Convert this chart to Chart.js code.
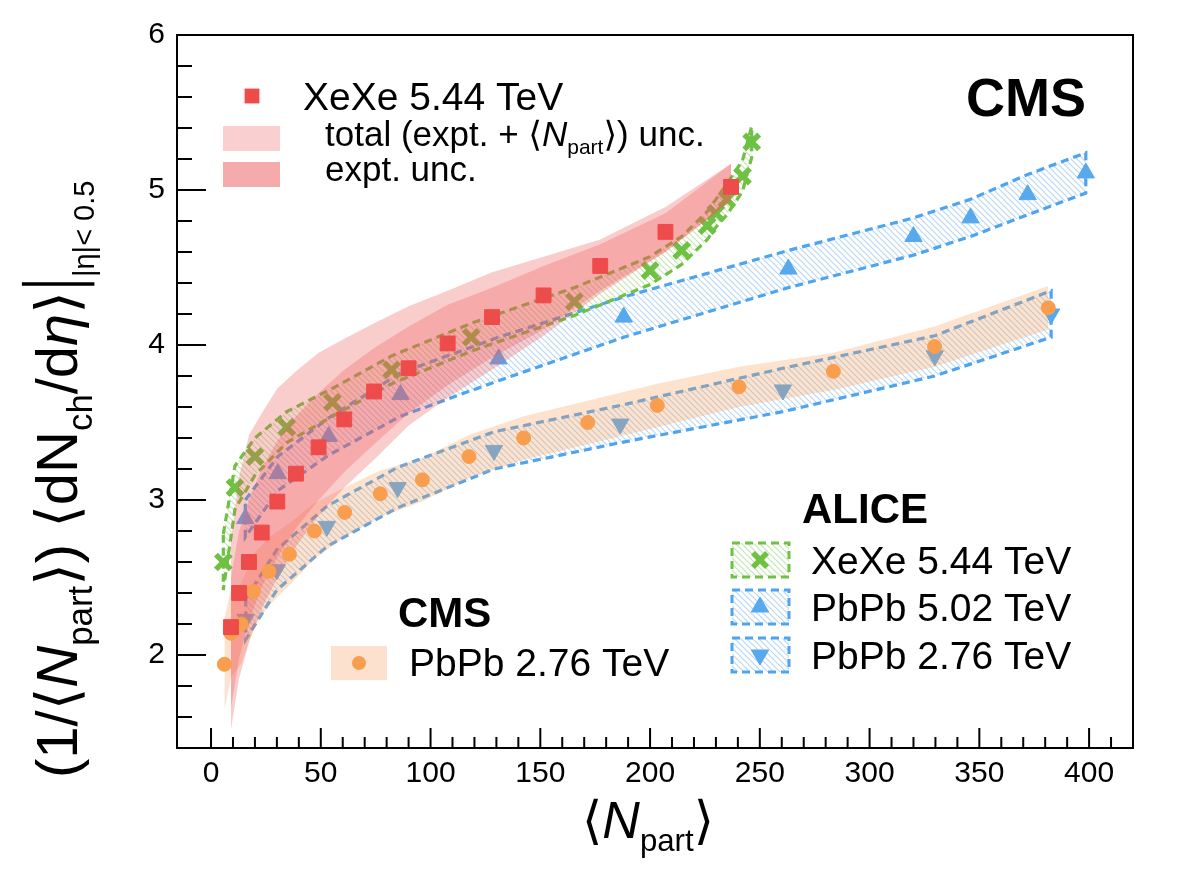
<!DOCTYPE html>
<html>
<head>
<meta charset="utf-8">
<script src="https://cdn.jsdelivr.net/npm/chart.js@4.4.1/dist/chart.umd.min.js"></script>
<style>
  html, body { margin: 0; padding: 0; background: #fff; }
  #wrap { width: 1182px; height: 871px; }
</style>
</head>
<body>
<div id="wrap"><canvas id="chart" width="1182" height="871"></canvas></div>
<script>
// ---- data ----
const xTicks = [0, 50, 100, 150, 200, 250, 300, 350, 400];
const yTicks = [2, 3, 4, 5, 6];

// CMS XeXe 5.44 TeV
const cmsXeXeNpart  = [9.1, 12.8, 17.3, 23.1, 30.2, 38.7, 49.0, 60.7, 74.3, 90.0, 107.8, 128.0, 151.5, 177.3, 207.0, 236.9];
const cmsXeXeVal    = [2.18, 2.40, 2.60, 2.79, 2.99, 3.17, 3.34, 3.52, 3.70, 3.85, 4.01, 4.18, 4.32, 4.51, 4.73, 5.02];
const cmsXeXeExptLo = [1.66, 1.98, 2.22, 2.44, 2.63, 2.82, 3.00, 3.18, 3.36, 3.56, 3.74, 3.92, 4.10, 4.35, 4.60, 4.93];
const cmsXeXeExptHi = [2.50, 2.80, 3.00, 3.20, 3.38, 3.54, 3.69, 3.84, 3.98, 4.12, 4.26, 4.37, 4.51, 4.65, 4.85, 5.17];
const cmsXeXeTotLo  = [1.52, 1.85, 2.08, 2.30, 2.50, 2.70, 2.90, 3.08, 3.26, 3.48, 3.66, 3.84, 4.06, 4.33, 4.60, 4.93];
const cmsXeXeTotHi  = [2.75, 3.15, 3.42, 3.56, 3.72, 3.83, 3.95, 4.04, 4.14, 4.25, 4.35, 4.47, 4.57, 4.68, 4.89, 5.17];

// CMS PbPb 2.76 TeV
const cmsPbPbNpart = [6.1, 9.1, 13.7, 19.3, 26.4, 35.7, 47.1, 60.9, 77.1, 96.3, 117.5, 142.4, 171.6, 203.3, 240.5, 283.5, 329.6, 381.4];
const cmsPbPbVal   = [1.94, 2.14, 2.20, 2.41, 2.54, 2.65, 2.80, 2.92, 3.04, 3.13, 3.28, 3.40, 3.50, 3.61, 3.73, 3.83, 3.99, 4.24];
const cmsPbPbErr   = [0.30, 0.28, 0.26, 0.24, 0.22, 0.20, 0.18, 0.16, 0.15, 0.14, 0.14, 0.14, 0.14, 0.14, 0.13, 0.12, 0.13, 0.14];

// ALICE XeXe 5.44 TeV
const aliceXeXeNpart = [5.6, 10.9, 20.0, 34.5, 55.3, 82.3, 118.5, 165.5, 200.0, 214.4, 226.0, 230.0, 235.0, 242.1, 246.3];
const aliceXeXeVal   = [2.60, 3.08, 3.28, 3.47, 3.63, 3.84, 4.05, 4.28, 4.48, 4.61, 4.77, 4.85, 4.94, 5.09, 5.31];
const aliceXeXeErr   = [0.18, 0.14, 0.12, 0.10, 0.09, 0.09, 0.09, 0.09, 0.09, 0.09, 0.09, 0.09, 0.10, 0.10, 0.10];

// ALICE PbPb 5.02 TeV
const alice502Npart = [15.6, 30.4, 53.6, 86.3, 131.0, 188.0, 263.0, 320.0, 346.0, 372.0, 398.5];
const alice502Val   = [2.88, 3.17, 3.41, 3.68, 3.91, 4.18, 4.49, 4.70, 4.82, 4.97, 5.11];
const alice502Err   = [0.12, 0.11, 0.12, 0.14, 0.14, 0.13, 0.12, 0.12, 0.12, 0.13, 0.13];

// ALICE PbPb 2.76 TeV
const alice276Npart = [15.8, 30.0, 52.8, 85.0, 128.9, 186.4, 260.5, 329.7, 382.7];
const alice276Val   = [2.23, 2.55, 2.83, 3.08, 3.32, 3.49, 3.71, 3.93, 4.20];
const alice276Err   = [0.13, 0.13, 0.13, 0.13, 0.12, 0.12, 0.14, 0.13, 0.15];

// ---- styling ----
const FONT = "'Liberation Sans', Arial, Helvetica, 'DejaVu Sans', sans-serif";
const red = '#ee4b4b';
const orange = '#f99d4f';
const green = '#6ec143';
const blue = '#58a8ec';
const blueLine = '#4ea4ee';
const pinkBand = 'rgba(238, 90, 90, 0.30)';
const orangeBand = 'rgba(250, 160, 90, 0.30)';

function hatch(color) {
    const c = document.createElement('canvas');
    c.width = 6; c.height = 6;
    const g = c.getContext('2d');
    g.strokeStyle = color;
    g.lineWidth = 1.1;
    g.beginPath();
    g.moveTo(-1, -1); g.lineTo(7, 7);
    g.moveTo(-4, 2); g.lineTo(4, 10);
    g.moveTo(2, -4); g.lineTo(10, 4);
    g.stroke();
    return g.createPattern(c, 'repeat');
}
const blueHatch = hatch('rgba(110, 175, 240, 0.5)');
const greenHatch = hatch('rgba(130, 205, 100, 0.5)');

const pts = (xs, ys) => xs.map((x, i) => ({x: x, y: ys[i]}));
const shift = (ys, es, s) => ys.map((y, i) => y + s * es[i]);
const outline = (xs, lo, hi) => {
    const top = pts(xs, hi);
    const bottom = pts(xs, lo).reverse();
    return top.concat(bottom, [top[0]]);
};

// band edges: upper edge fills down to the next dataset (the lower edge)
const bandPair = (xs, lo, hi, fillColor) => [
    {data: pts(xs, hi), fill: '+1', backgroundColor: fillColor, borderWidth: 0, pointRadius: 0},
    {data: pts(xs, lo), fill: false, borderWidth: 0, pointRadius: 0}
];
const dashed = (xs, lo, hi, color) => ({
    data: outline(xs, lo, hi), fill: false, borderColor: color, borderWidth: 3.2,
    borderDash: [8, 5], pointRadius: 0
});
const markers = (xs, ys, color, style, radius, extra) => Object.assign({
    data: pts(xs, ys), showLine: false, pointStyle: style, pointRadius: radius,
    backgroundColor: color, borderColor: color, pointBorderWidth: 1
}, extra || {});

const datasets = [
    ...bandPair(alice276Npart, shift(alice276Val, alice276Err, -1), shift(alice276Val, alice276Err, 1), blueHatch),
    dashed(alice276Npart, shift(alice276Val, alice276Err, -1), shift(alice276Val, alice276Err, 1), blueLine),
    ...bandPair(alice502Npart, shift(alice502Val, alice502Err, -1), shift(alice502Val, alice502Err, 1), blueHatch),
    dashed(alice502Npart, shift(alice502Val, alice502Err, -1), shift(alice502Val, alice502Err, 1), blueLine),
    ...bandPair(aliceXeXeNpart, shift(aliceXeXeVal, aliceXeXeErr, -1), shift(aliceXeXeVal, aliceXeXeErr, 1), greenHatch),
    dashed(aliceXeXeNpart, shift(aliceXeXeVal, aliceXeXeErr, -1), shift(aliceXeXeVal, aliceXeXeErr, 1), green),
    markers(alice276Npart, alice276Val, blue, 'triangle', 10, {pointRotation: 180}),
    markers(alice502Npart, alice502Val, blue, 'triangle', 10),
    markers(aliceXeXeNpart, aliceXeXeVal, green, 'crossRot', 10.5, {pointBorderWidth: 5.5}),
    ...bandPair(cmsPbPbNpart, shift(cmsPbPbVal, cmsPbPbErr, -1), shift(cmsPbPbVal, cmsPbPbErr, 1), orangeBand),
    ...bandPair(cmsXeXeNpart, cmsXeXeTotLo, cmsXeXeTotHi, pinkBand),
    ...bandPair(cmsXeXeNpart, cmsXeXeExptLo, cmsXeXeExptHi, pinkBand),
    markers(cmsPbPbNpart, cmsPbPbVal, orange, 'circle', 7),
    markers(cmsXeXeNpart, cmsXeXeVal, red, 'rect', 10.5)
];
// first dataset at the bottom, last on top
datasets.forEach((d, i) => { d.order = datasets.length - i; });

// rich text: parts of {t, s, it, b, dy} or {bar}
function setFont(ctx, p) {
    ctx.font = (p.it ? 'italic ' : '') + (p.b ? 'bold ' : '') + p.s + 'px ' + FONT;
}
function richWidth(ctx, parts) {
    let w = 0;
    parts.forEach(p => {
        if (p.bar) { w += p.adv; return; }
        setFont(ctx, p);
        w += ctx.measureText(p.t).width;
    });
    return w;
}
function drawRich(ctx, parts, x, y) {
    let cx = x;
    parts.forEach(p => {
        if (p.bar) {
            ctx.save();
            ctx.lineWidth = p.w;
            ctx.beginPath();
            ctx.moveTo(cx + p.adv / 2, y + p.y1);
            ctx.lineTo(cx + p.adv / 2, y + p.y2);
            ctx.stroke();
            ctx.restore();
            cx += p.adv;
            return;
        }
        setFont(ctx, p);
        ctx.fillText(p.t, cx, y + (p.dy || 0));
        cx += ctx.measureText(p.t).width;
    });
}

const frameTicks = {
    id: 'frameTicks',
    afterDatasetsDraw(chart) {
        const {ctx, chartArea: a, scales: {x, y}} = chart;
        ctx.save();
        ctx.strokeStyle = '#000';
        ctx.lineWidth = 2;
        ctx.strokeRect(a.left, a.top, a.right - a.left, a.bottom - a.top);
        ctx.beginPath();
        for (let k = 0; k <= 42; k++) {
            const px = x.getPixelForValue(k * 10);
            if (px > a.right) break;
            const len = k % 5 === 0 ? 20 : 11;
            ctx.moveTo(px, a.bottom);
            ctx.lineTo(px, a.bottom - len);
        }
        for (let k = 8; k <= 30; k++) {
            const py = y.getPixelForValue(k * 0.2);
            const len = k % 5 === 0 ? 29 : 15;
            ctx.moveTo(a.left, py);
            ctx.lineTo(a.left + len, py);
        }
        ctx.stroke();
        ctx.restore();
    }
};

const texts = {
    id: 'texts',
    afterDraw(chart) {
        const ctx = chart.ctx;
        const H = Chart.helpers;
        ctx.save();
        ctx.fillStyle = '#000';
        ctx.strokeStyle = '#000';
        ctx.textBaseline = 'alphabetic';

        // y axis title, rotated
        const F = 58;
        const yTitle = [
            {t: '(1/', s: F}, {t: '\u27E8', s: F}, {t: 'N', s: F, it: 1},
            {t: 'part', s: F * 0.6, dy: F * 0.25}, {t: '\u27E9', s: F}, {t: ') ', s: F},
            {t: '\u27E8dN', s: F}, {t: 'ch', s: F * 0.6, dy: F * 0.25}, {t: '/d', s: F},
            {t: '\u03B7', s: F, it: 1}, {t: '\u27E9', s: F},
            {bar: 1, adv: 14, w: 3.5, y1: F * 0.3, y2: -F * 0.95},
            {t: '|\u03B7|< 0.5', s: F * 0.5, dy: F * 0.3}
        ];
        ctx.save();
        ctx.translate(77, 778);
        ctx.rotate(-Math.PI / 2);
        drawRich(ctx, yTitle, 0, 0);
        ctx.restore();

        // x axis title
        const G = 52;
        const xTitle = [
            {t: '\u27E8', s: G}, {t: 'N', s: G, it: 1},
            {t: 'part', s: G * 0.6, dy: G * 0.25}, {t: '\u27E9', s: G}
        ];
        drawRich(ctx, xTitle, 648 - richWidth(ctx, xTitle) / 2, 838);

        // CMS legend (top left)
        ctx.fillStyle = red;
        H.drawPoint(ctx, {pointStyle: 'rect', radius: 10.5, borderWidth: 0}, 252, 96);
        ctx.fillStyle = 'rgb(249, 207, 207)';
        ctx.fillRect(223, 126, 57, 25);
        ctx.fillStyle = 'rgb(245, 171, 171)';
        ctx.fillRect(223, 162, 57, 25);
        ctx.fillStyle = '#000';
        drawRich(ctx, [{t: 'XeXe 5.44 TeV', s: 39}], 303, 110);
        drawRich(ctx, [{t: 'total (expt. + ', s: 35}, {t: '\u27E8', s: 35}, {t: 'N', s: 35, it: 1},
            {t: 'part', s: 21, dy: 8}, {t: '\u27E9', s: 35}, {t: ') unc.', s: 35}], 325, 146);
        drawRich(ctx, [{t: 'expt. unc.', s: 35}], 325, 181);

        // CMS labels
        drawRich(ctx, [{t: 'CMS', s: 54, b: 1}], 966, 116);
        drawRich(ctx, [{t: 'CMS', s: 42, b: 1}], 398, 627);
        ctx.fillStyle = 'rgb(252, 226, 206)';
        ctx.fillRect(331, 646, 56, 34);
        ctx.fillStyle = orange;
        H.drawPoint(ctx, {pointStyle: 'circle', radius: 7, borderWidth: 0}, 359, 663);
        ctx.fillStyle = '#000';
        drawRich(ctx, [{t: 'PbPb 2.76 TeV', s: 39}], 409, 676);

        // ALICE legend
        drawRich(ctx, [{t: 'ALICE', s: 42, b: 1}], 802, 523);
        const rows = [
            {y: 543, hatch: greenHatch, line: green, color: green, style: 'crossRot', r: 10, rot: 0, label: 'XeXe 5.44 TeV'},
            {y: 590, hatch: blueHatch, line: blueLine, color: blue, style: 'triangle', r: 10, rot: 0, label: 'PbPb 5.02 TeV'},
            {y: 638, hatch: blueHatch, line: blueLine, color: blue, style: 'triangle', r: 10, rot: 180, label: 'PbPb 2.76 TeV'}
        ];
        rows.forEach(r => {
            ctx.fillStyle = r.hatch;
            ctx.fillRect(732, r.y, 57, 34);
            ctx.save();
            ctx.strokeStyle = r.line;
            ctx.lineWidth = 3;
            ctx.setLineDash([8, 5]);
            ctx.strokeRect(732, r.y, 57, 34);
            ctx.restore();
            ctx.fillStyle = r.color;
            ctx.strokeStyle = r.color;
            ctx.lineWidth = r.style === 'crossRot' ? 5.5 : 1;
            H.drawPoint(ctx, {pointStyle: r.style, radius: r.r, rotation: r.rot, borderWidth: ctx.lineWidth}, 760, r.y + 17);
            ctx.fillStyle = '#000';
            drawRich(ctx, [{t: r.label, s: 39}], 811, r.y + 31);
        });
        ctx.restore();
    }
};

new Chart(document.getElementById('chart'), {
    type: 'line',
    data: {datasets: datasets},
    options: {
        responsive: false,
        animation: false,
        devicePixelRatio: 1,
        events: [],
        layout: {padding: {left: 0, top: 35, right: 49, bottom: 0}},
        elements: {line: {tension: 0}},
        plugins: {legend: {display: false}, tooltip: {enabled: false}},
        scales: {
            x: {
                type: 'linear', min: -15.5, max: 420,
                grid: {display: false, drawTicks: false}, border: {display: false},
                afterBuildTicks: s => { s.ticks = xTicks.map(v => ({value: v})); },
                afterFit: s => { s.height = 123; },
                ticks: {color: '#000', padding: 8, maxRotation: 0, font: {family: FONT, size: 30}}
            },
            y: {
                type: 'linear', min: 1.4, max: 6,
                grid: {display: false, drawTicks: false}, border: {display: false},
                afterBuildTicks: s => { s.ticks = yTicks.map(v => ({value: v})); },
                afterFit: s => { s.width = 177; },
                ticks: {color: '#000', padding: 12, font: {family: FONT, size: 30}}
            }
        }
    },
    plugins: [frameTicks, texts]
});
</script>
</body>
</html>
